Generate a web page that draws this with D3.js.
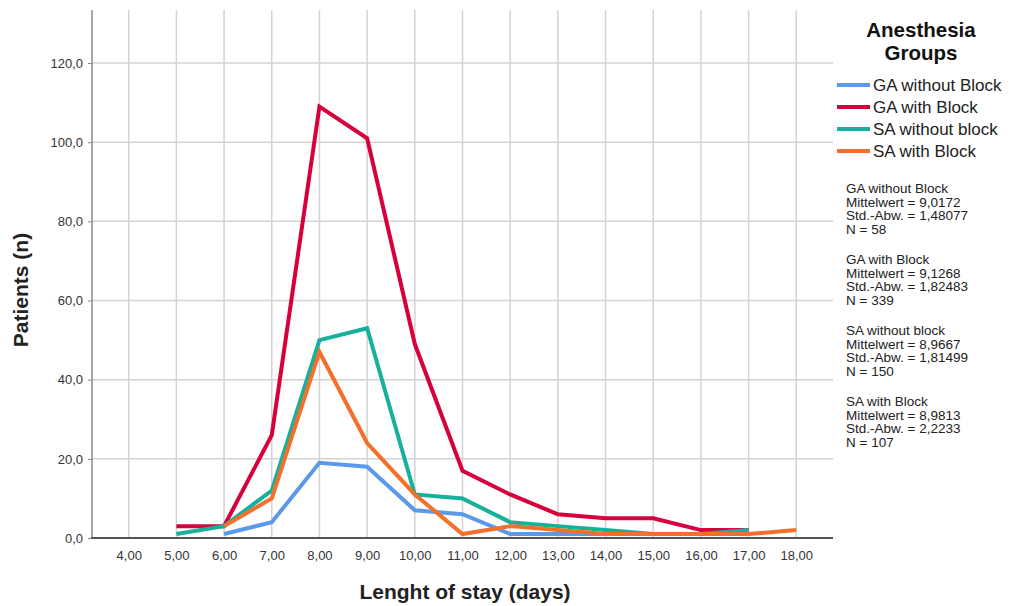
<!DOCTYPE html>
<html><head><meta charset="utf-8">
<script src="https://cdn.jsdelivr.net/npm/d3@7"></script>
<style>body{margin:0;background:#fff}svg{display:block;font-family:"Liberation Sans",Arial,sans-serif}</style>
</head><body><svg id="c" width="1009" height="606"></svg>
<script>
const days = [4,5,6,7,8,9,10,11,12,13,14,15,16,17,18];
const yTicks = [0,20,40,60,80,100,120];
const seriesNames = ["GA without Block","GA with Block","SA without block","SA with Block"];
const seriesColors = ["#5b9aea","#d8003c","#16b09b","#f26f2c"];
const gaWithoutDays = [6,7,8,9,10,11,12,13,14];
const gaWithoutVals = [1,4,19,18,7,6,1,1,1];
const gaWithDays = [5,6,7,8,9,10,11,12,13,14,15,16,17];
const gaWithVals = [3,3,26,109,101,49,17,11,6,5,5,2,2];
const saWithoutDays = [5,6,7,8,9,10,11,12,13,14,15,16,17];
const saWithoutVals = [1,3,12,50,53,11,10,4,3,2,1,1,2];
const saWithDays = [6,7,8,9,10,11,12,13,14,15,16,17,18];
const saWithVals = [3,10,47,24,11,1,3,2,1,1,1,1,2];
const stats = [
 ["GA without Block","Mittelwert = 9,0172","Std.-Abw. = 1,48077","N = 58"],
 ["GA with Block","Mittelwert = 9,1268","Std.-Abw. = 1,82483","N = 339"],
 ["SA without block","Mittelwert = 8,9667","Std.-Abw. = 1,81499","N = 150"],
 ["SA with Block","Mittelwert = 8,9813","Std.-Abw. = 2,2233","N = 107"]
];
const series = [
 {days:gaWithoutDays, vals:gaWithoutVals},
 {days:gaWithDays, vals:gaWithVals},
 {days:saWithoutDays, vals:saWithoutVals},
 {days:saWithDays, vals:saWithVals}
];

const svg = d3.select("#c");
const L=92, R=833, T=10, B=538;
const x = d3.scalePoint().domain(days).range([L,R]).padding(0.77);
const y = d3.scaleLinear().domain([0,133.4]).range([B,T]);

// gridlines
const g = svg.append("g");
g.selectAll(".hg").data(yTicks.slice(1)).join("line")
 .attr("x1",L).attr("x2",R).attr("y1",d=>y(d)).attr("y2",d=>y(d))
 .attr("stroke","#d3d3d3").attr("stroke-width",1.5);
g.selectAll(".vg").data(days).join("line")
 .attr("x1",d=>x(d)).attr("x2",d=>x(d)).attr("y1",T).attr("y2",B)
 .attr("stroke","#d3d3d3").attr("stroke-width",1.5);

// axes
const ya = svg.append("g").attr("transform",`translate(${L},0)`)
 .call(d3.axisLeft(y).tickValues(yTicks).tickSize(4).tickSizeOuter(0).tickFormat(d=>d3.format(".1f")(d).replace(".",",")));
ya.select(".domain").remove();
ya.selectAll("line").attr("stroke","#888");
ya.selectAll("text").attr("font-size",13).attr("fill","#333").attr("dx",-2).attr("font-family","Liberation Sans, Arial, sans-serif");
svg.append("line").attr("x1",L).attr("x2",L).attr("y1",T).attr("y2",B+1).attr("stroke","#8a8a8a").attr("stroke-width",1.5);

const xa = svg.append("g").attr("transform",`translate(0,${B})`)
 .call(d3.axisBottom(x).tickSize(0).tickFormat(d=>d3.format(".2f")(d).replace(".",",")));
xa.select(".domain").remove();
xa.selectAll("text").attr("font-size",13).attr("fill","#333").attr("dy","1.45em").attr("font-family","Liberation Sans, Arial, sans-serif");
svg.append("line").attr("x1",L-1).attr("x2",R).attr("y1",B).attr("y2",B).attr("stroke","#555").attr("stroke-width",2);

// lines
const line = d3.line().x(d=>x(d[0])).y(d=>y(d[1]));
series.forEach((s,i)=>{
  svg.append("path").datum(s.days.map((dd,j)=>[dd,s.vals[j]]))
   .attr("d",line).attr("fill","none").attr("stroke",seriesColors[i])
   .attr("stroke-width",4).attr("stroke-linejoin","miter");
});

// axis titles
svg.append("text").attr("x",465).attr("y",599).attr("text-anchor","middle")
 .attr("font-size",21).attr("font-weight","bold").attr("fill","#222").text("Lenght of stay (days)");
svg.append("text").attr("transform","translate(28,290) rotate(-90)").attr("text-anchor","middle")
 .attr("font-size",21).attr("font-weight","bold").attr("fill","#222").text("Patients (n)");

// legend
svg.append("text").attr("x",921).attr("y",37).attr("text-anchor","middle").attr("font-size",20.5).attr("font-weight","bold").attr("fill","#111").text("Anesthesia");
svg.append("text").attr("x",921).attr("y",60).attr("text-anchor","middle").attr("font-size",20.5).attr("font-weight","bold").attr("fill","#111").text("Groups");
seriesNames.forEach((n,i)=>{
  const yy = 85 + i*22;
  svg.append("line").attr("x1",837).attr("x2",870).attr("y1",yy).attr("y2",yy).attr("stroke",seriesColors[i]).attr("stroke-width",4);
  svg.append("text").attr("x",873).attr("y",yy+6).attr("font-size",17).attr("fill","#222").text(n);
});
stats.forEach((blk,i)=>{
  const y0 = 193 + i*71;
  blk.forEach((t,j)=>{
    svg.append("text").attr("x",846).attr("y",y0+j*13.7).attr("font-size",13.5).attr("fill","#222").text(t);
  });
});
</script></body></html>
